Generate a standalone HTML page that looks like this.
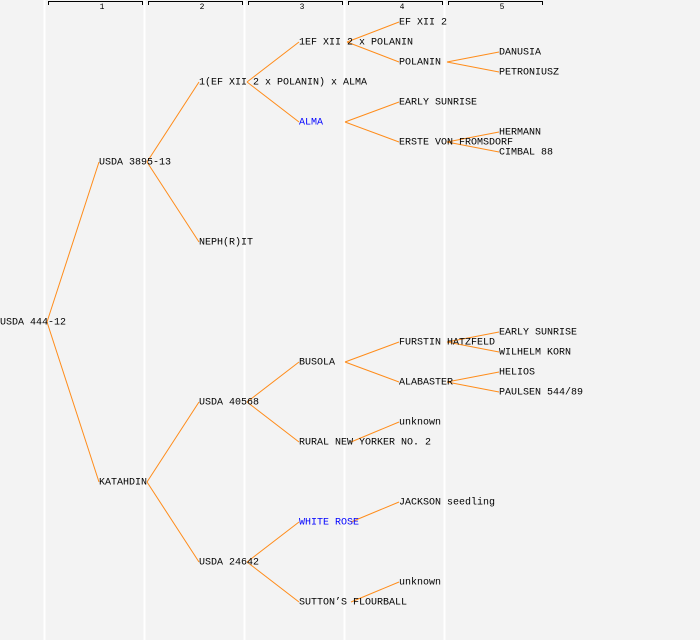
<!DOCTYPE html>
<html><head><meta charset="utf-8"><style>
html,body{margin:0;padding:0;background:#f3f3f3;}
svg{display:block}
text{font-family:"Liberation Mono","DejaVu Sans Mono",monospace;font-size:10px;fill:#000;}
</style></head><body>
<svg width="700" height="640" viewBox="0 0 700 640" xmlns="http://www.w3.org/2000/svg">
<rect width="700" height="640" fill="#f3f3f3"/>
<g stroke="#ffffff" stroke-width="2">
<line x1="44.5" y1="0" x2="44.5" y2="640"/>
<line x1="144.5" y1="0" x2="144.5" y2="640"/>
<line x1="244.5" y1="0" x2="244.5" y2="640"/>
<line x1="344.5" y1="0" x2="344.5" y2="640"/>
<line x1="444.5" y1="0" x2="444.5" y2="640"/>
</g>
<g stroke="#000" stroke-width="1" fill="none">
<path d="M48.5 5V1.5H142.5V5"/>
<path d="M148.5 5V1.5H242.5V5"/>
<path d="M248.5 5V1.5H342.5V5"/>
<path d="M348.5 5V1.5H442.5V5"/>
<path d="M448.5 5V1.5H542.5V5"/>
</g>
<g style="font-size:8px" text-anchor="middle">
<text x="102" y="9" style="font-size:8px">1</text>
<text x="202" y="9" style="font-size:8px">2</text>
<text x="302" y="9" style="font-size:8px">3</text>
<text x="402" y="9" style="font-size:8px">4</text>
<text x="502" y="9" style="font-size:8px">5</text>
</g>
<g stroke="#ff8c1a" stroke-width="1" fill="none">
<path d="M47 322L99 162M47 322L99 482"/>
<path d="M147 162L199 82M147 162L199 242M147 482L199 402M147 482L199 562"/>
<path d="M247 82L299 42M247 82L299 122M247 402L299 362M247 402L299 442M247 562L299 522M247 562L299 602"/>
<path d="M347 42L399 22M347 42L399 62M345 122L399 102M345 122L399 142M345 362L399 342M345 362L399 382M351 442L399 422M351 522L399 502M351 602L399 582"/>
<path d="M447 62L499 52M447 62L499 72M447 142L499 132M447 142L499 152M447 342L499 332M447 342L499 352M447 382L499 372M447 382L499 392"/>
</g>
<g dominant-baseline="middle">
<text x="0" y="322">USDA 444-12</text>
<text x="99" y="162">USDA 3895-13</text>
<text x="99" y="482">KATAHDIN</text>
<text x="199" y="82">1(EF XII 2 x POLANIN) x ALMA</text>
<text x="199" y="242">NEPH(R)IT</text>
<text x="199" y="402">USDA 40568</text>
<text x="199" y="562">USDA 24642</text>
<text x="299" y="42">1EF XII 2 x POLANIN</text>
<text x="299" y="122" style="fill:#0000ff">ALMA</text>
<text x="299" y="362">BUSOLA</text>
<text x="299" y="442">RURAL NEW YORKER NO. 2</text>
<text x="299" y="522" style="fill:#0000ff">WHITE ROSE</text>
<text x="299" y="602">SUTTON’S FLOURBALL</text>
<text x="399" y="22">EF XII 2</text>
<text x="399" y="62">POLANIN</text>
<text x="399" y="102">EARLY SUNRISE</text>
<text x="399" y="142">ERSTE VON FROMSDORF</text>
<text x="399" y="342">FURSTIN HATZFELD</text>
<text x="399" y="382">ALABASTER</text>
<text x="399" y="422">unknown</text>
<text x="399" y="502">JACKSON seedling</text>
<text x="399" y="582">unknown</text>
<text x="499" y="52">DANUSIA</text>
<text x="499" y="72">PETRONIUSZ</text>
<text x="499" y="132">HERMANN</text>
<text x="499" y="152">CIMBAL 88</text>
<text x="499" y="332">EARLY SUNRISE</text>
<text x="499" y="352">WILHELM KORN</text>
<text x="499" y="372">HELIOS</text>
<text x="499" y="392">PAULSEN 544/89</text>
</g>
</svg>
</body></html>
